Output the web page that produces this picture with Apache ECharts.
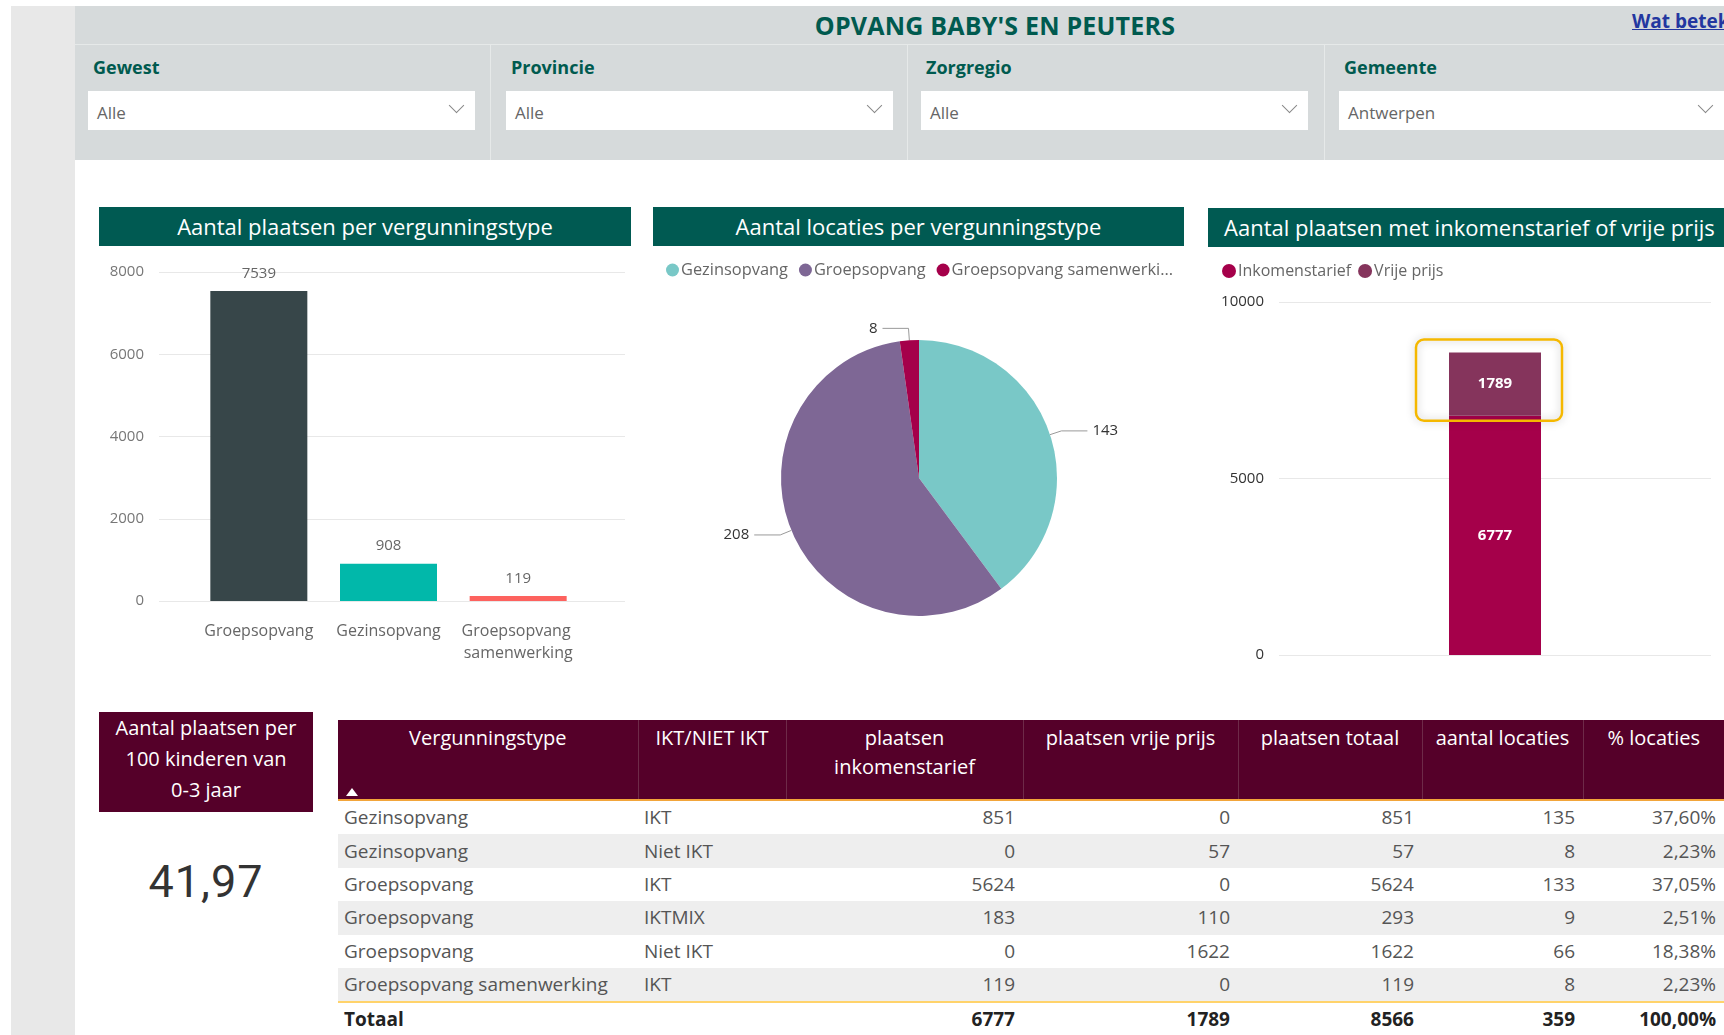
<!DOCTYPE html>
<html>
<head>
<meta charset="utf-8">
<title>Opvang baby's en peuters</title>
<script src="https://cdn.jsdelivr.net/npm/echarts/dist/echarts.min.js"></script>
<style>
  html, body { margin: 0; padding: 0; background: #fff; }
  body { width: 1724px; height: 1035px; position: relative; overflow: hidden;
         font-family: 'Segoe UI', 'Open Sans', sans-serif; }
  .abs { position: absolute; }
  #strip { left: 11px; top: 6px; width: 64px; height: 1029px; background: #e8e8e8; }
  #header { left: 75px; top: 6px; width: 1649px; height: 154px; background: #d6dadb; }
  #title { left: 75px; width: 1840px; top: 8px; text-align: center; font-weight: 700;
           font-size: 25px; color: #005a4f; letter-spacing: 0.2px; }
  #link { left: 1632px; top: 8px; font-size: 19px; font-weight: 700; color: #2337a0;
          text-decoration: underline; white-space: nowrap; }
  .hline { height: 1px; background: #e6e9e9; }
  .vline { width: 1px; background: #e6e9e9; top: 44px; height: 116px; }
  .slab { font-size: 18px; font-weight: 700; color: #005a4f; top: 55px; }
  .box { top: 91px; height: 39px; background: #fff; }
  .box span { position: absolute; left: 9px; top: 10px; font-size: 17px; color: #666; }
  .box i { position: absolute; right: 13px; top: 9px; width: 10px; height: 10px;
           border-right: 1.5px solid #888; border-bottom: 1.5px solid #888; transform: rotate(45deg); }
  .band { background: #005a52; color: #fff; font-size: 22px; text-align: center;
          line-height: 39px; height: 39px; white-space: nowrap; overflow: hidden; }
  #card { left: 99px; top: 712px; width: 214px; height: 100px; background: #550029; color: #fff;
          font-size: 20px; line-height: 31px; text-align: center; padding-top: 0; }
  #kpi { left: 99px; width: 214px; top: 855px; text-align: center; font-size: 45px; color: #333;
         font-family: 'Roboto', sans-serif; letter-spacing: 1px; }
  table { border-collapse: collapse; table-layout: fixed; }
  #tbl { left: 338px; top: 720px; width: 1386px; }
  #tbl th { background: #550029; color: #fff; font-weight: 400; font-size: 20px; line-height: 29px;
            vertical-align: top; padding: 3px 4px 0; height: 76px; text-align: center;
            border-left: 1px solid #6e2a48; border-bottom: 2px solid #f2a53a; position: relative; }
  #tbl th:first-child { border-left: none; }
  #tbl td { font-size: 19px; color: #555; height: 33.4px; padding: 0 8px 0 6px; white-space: nowrap;
            line-height: 33px; text-align: right; }
  #tbl td.t { text-align: left; }
  #tbl tr.alt td { background: #eeeeee; }
  #tbl tr.last td { border-bottom: 2px solid #ffd36b; }
  #tbl tr.tot td { font-weight: 700; color: #222; height: 33px; }
  .arrow { position: absolute; left: 8px; bottom: 3px; width: 0; height: 0;
           border-left: 6px solid transparent; border-right: 6px solid transparent; border-bottom: 8px solid #fff; }
</style>
</head>
<body>
<div id="strip" class="abs"></div>
<div id="header" class="abs"></div>
<div id="title" class="abs">OPVANG BABY'S EN PEUTERS</div>
<div id="link" class="abs">Wat betekent</div>
<div class="abs hline" style="left:75px;top:44px;width:1649px"></div>
<div class="abs vline" style="left:490px"></div>
<div class="abs vline" style="left:907px"></div>
<div class="abs vline" style="left:1324px"></div>
<div id="slicers"></div>

<div class="abs band" style="left:99px;top:207px;width:532px">Aantal plaatsen per vergunningstype</div>
<div class="abs band" style="left:653px;top:207px;width:531px">Aantal locaties per vergunningstype</div>
<div class="abs band" style="left:1208px;top:208px;width:516px;text-align:left;padding-left:16px;box-sizing:border-box">Aantal plaatsen met inkomenstarief of vrije prijs</div>

<div id="c1" class="abs" style="left:99px;top:250px;width:540px;height:430px"></div>
<div id="c2" class="abs" style="left:653px;top:250px;width:531px;height:430px"></div>
<div id="c3" class="abs" style="left:1208px;top:255px;width:516px;height:420px"></div>

<div id="card" class="abs">Aantal plaatsen per<br>100 kinderen van<br>0-3 jaar</div>
<div id="kpi" class="abs">41,97</div>

<table id="tbl" class="abs"></table>

<script>
// slicers
var slicerLabels = ['Gewest', 'Provincie', 'Zorgregio', 'Gemeente'];
var slicerValues = ['Alle', 'Alle', 'Alle', 'Antwerpen'];

// chart 1: plaatsen per vergunningstype
var barCats = ['Groepsopvang', 'Gezinsopvang', 'Groepsopvang samenwerking'];
var barValues = [7539, 908, 119];
var barColors = ['#374649', '#01b8aa', '#fd625e'];

// chart 2: locaties per vergunningstype
var pieNames = ['Gezinsopvang', 'Groepsopvang', 'Groepsopvang samenwerking'];
var pieValues = [143, 208, 8];
var pieColors = ['#79c8c7', '#7e6795', '#a5004a'];

// chart 3: inkomenstarief of vrije prijs
var stackNames = ['Inkomenstarief', 'Vrije prijs'];
var stackValues = [6777, 1789];
var stackColors = ['#a5004a', '#85345c'];

// table
var colHeads = ['Vergunningstype', 'IKT/NIET IKT', 'plaatsen<br>inkomenstarief', 'plaatsen vrije prijs',
                'plaatsen totaal', 'aantal locaties', '% locaties'];
var colWidths = [300, 148, 237, 215, 184, 161, 141];
var rowType = ['Gezinsopvang', 'Gezinsopvang', 'Groepsopvang', 'Groepsopvang', 'Groepsopvang', 'Groepsopvang samenwerking'];
var rowIkt = ['IKT', 'Niet IKT', 'IKT', 'IKTMIX', 'Niet IKT', 'IKT'];
var rowInkomen = [851, 0, 5624, 183, 0, 119];
var rowVrij = [0, 57, 0, 110, 1622, 0];
var rowTotaal = [851, 57, 5624, 293, 1622, 119];
var rowLocaties = [135, 8, 133, 9, 66, 8];
var rowPct = ['37,60%', '2,23%', '37,05%', '2,51%', '18,38%', '2,23%'];
var totals = ['Totaal', '', 6777, 1789, 8566, 359, '100,00%'];

var FONT = "'Segoe UI', 'Open Sans', sans-serif";
var plain = function (v) { return String(v); };

// slicers: [label x, box x, box width]
var slicerX = [[93, 88, 387], [511, 506, 387], [926, 921, 387], [1344, 1339, 385]];
var sh = '';
slicerLabels.forEach(function (l, i) {
  var p = slicerX[i];
  sh += '<div class="abs slab" style="left:' + p[0] + 'px">' + l + '</div>';
  sh += '<div class="abs box" style="left:' + p[1] + 'px;width:' + p[2] + 'px"><span>' + slicerValues[i] + '</span><i></i></div>';
});
document.getElementById('slicers').innerHTML = sh;

// table
var th = '<colgroup>' + colWidths.map(function (w) { return '<col style="width:' + w + 'px">'; }).join('') + '</colgroup>';
th += '<tr>' + colHeads.map(function (h, i) {
  return '<th>' + h + (i === 0 ? '<span class="arrow"></span>' : '') + '</th>';
}).join('') + '</tr>';
rowType.forEach(function (t, i) {
  var cls = (i % 2 ? 'alt' : '') + (i === rowType.length - 1 ? ' last' : '');
  th += '<tr class="' + cls + '"><td class="t">' + t + '</td><td class="t">' + rowIkt[i] + '</td><td>' +
        rowInkomen[i] + '</td><td>' + rowVrij[i] + '</td><td>' + rowTotaal[i] + '</td><td>' +
        rowLocaties[i] + '</td><td>' + rowPct[i] + '</td></tr>';
});
th += '<tr class="tot">' + totals.map(function (v, i) {
  return '<td' + (i < 2 ? ' class="t"' : '') + '>' + v + '</td>';
}).join('') + '</tr>';
document.getElementById('tbl').innerHTML = th;

// chart 1
var chart1 = echarts.init(document.getElementById('c1'));
chart1.setOption({
  animation: false,
  textStyle: { fontFamily: FONT },
  grid: [
    { left: 60, top: 22, width: 466, height: 329 },
    { left: 95, top: 22, width: 389, height: 329 }
  ],
  xAxis: [
    { gridIndex: 0, type: 'value', show: false },
    { gridIndex: 1, type: 'category', data: barCats,
      axisLine: { show: false }, axisTick: { show: false },
      axisLabel: { color: '#666', fontSize: 16, margin: 19, width: 125, overflow: 'break',
                   lineHeight: 22, interval: 0 } }
  ],
  yAxis: [
    { gridIndex: 0, type: 'value', min: 0, max: 8000, interval: 2000,
      axisLine: { show: false }, axisTick: { show: false },
      axisLabel: { color: '#777', fontSize: 15, margin: 15, formatter: plain },
      splitLine: { lineStyle: { color: '#e8e8e8' } } },
    { gridIndex: 1, type: 'value', min: 0, max: 8000, show: false, splitLine: { show: false } }
  ],
  series: [{
    type: 'bar', xAxisIndex: 1, yAxisIndex: 1, barWidth: 97,
    data: barValues.map(function (v, i) { return { value: v, itemStyle: { color: barColors[i] } }; }),
    label: { show: true, position: 'top', distance: 10, color: '#666', fontSize: 15 }
  }]
});

// chart 2
var chart2 = echarts.init(document.getElementById('c2'));
chart2.setOption({
  animation: false,
  textStyle: { fontFamily: FONT },
  color: pieColors,
  legend: {
    data: pieNames, left: 8, top: 7, icon: 'circle', itemWidth: 13, itemHeight: 13, itemGap: 11,
    textStyle: { color: '#666', fontSize: 16.4, padding: [0, 0, 0, -3] },
    formatter: function (n) { return n.length > 23 ? n.slice(0, 23) + '...' : n; }
  },
  series: [{
    type: 'pie', center: [266, 228], radius: 138, startAngle: 90, clockwise: true,
    data: pieNames.map(function (n, i) { return { name: n, value: pieValues[i] }; }),
    label: { formatter: '{c}', color: '#333', fontSize: 15 },
    labelLine: { length: 12, length2: 26, lineStyle: { color: '#999', width: 1 } }
  }]
});

// chart 3
var chart3 = echarts.init(document.getElementById('c3'));
chart3.setOption({
  animation: false,
  textStyle: { fontFamily: FONT },
  legend: {
    data: stackNames, left: 9, top: 3, icon: 'circle', itemWidth: 14, itemHeight: 14, itemGap: 7,
    textStyle: { color: '#666', fontSize: 16, padding: [0, 0, 0, -3] }
  },
  grid: { left: 71, right: 13, top: 47, height: 353 },
  xAxis: { type: 'category', data: [''], axisLine: { show: false }, axisTick: { show: false },
           axisLabel: { show: false } },
  yAxis: { type: 'value', min: 0, max: 10000, interval: 5000,
           axisLabel: { color: '#333', fontSize: 15, margin: 15, formatter: plain },
           splitLine: { lineStyle: { color: '#e8e8e8' } } },
  series: stackNames.map(function (n, i) {
    return {
      name: n, type: 'bar', stack: 'p', barWidth: 92, data: [stackValues[i]],
      itemStyle: { color: stackColors[i] },
      label: { show: true, position: 'inside', color: '#fff', fontWeight: 700, fontSize: 15 }
    };
  })
});
// highlight frame around the top segment
var pTop = chart3.convertToPixel({ gridIndex: 0 }, [0, stackValues[0] + stackValues[1]]);
var pMid = chart3.convertToPixel({ gridIndex: 0 }, [0, stackValues[0]]);
chart3.setOption({
  graphic: [{
    type: 'rect', z: 10,
    shape: { x: pTop[0] - 79, y: pTop[1] - 13, width: 146, height: pMid[1] - pTop[1] + 18, r: 8 },
    style: { fill: 'rgba(0,0,0,0)', stroke: '#f5b800', lineWidth: 2.5,
             shadowBlur: 8, shadowColor: 'rgba(0,0,0,0.25)' }
  }]
});
</script>
</body>
</html>
